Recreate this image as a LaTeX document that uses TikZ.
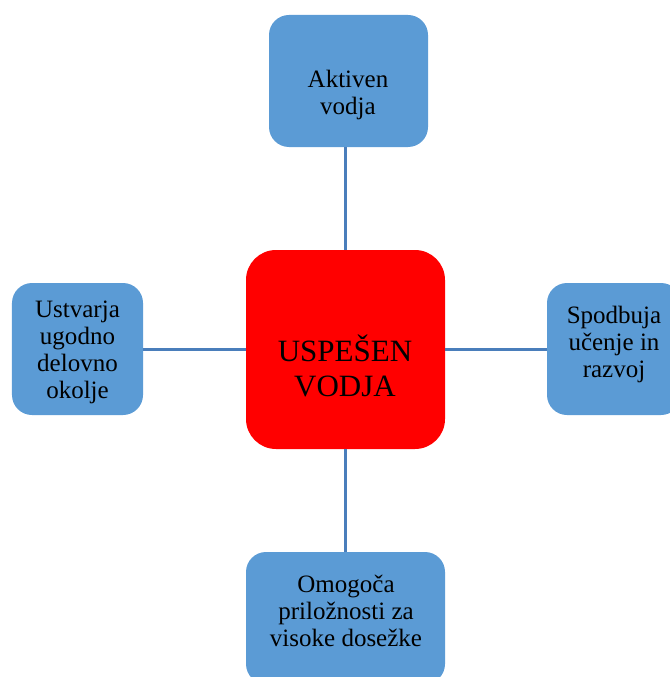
\documentclass[tikz,border=0pt]{standalone}
\usepackage{fontspec}
\setmainfont{Liberation Serif}
\definecolor{boxblue}{HTML}{5B9BD5}
\definecolor{linkblue}{HTML}{4A7EBB}
\definecolor{corered}{HTML}{FF0000}
\begin{document}
\begin{tikzpicture}[x=1bp,y=-1bp,
  sidebox/.style={fill=boxblue, draw=none, rounded corners=20bp, inner sep=0pt},
  corebox/.style={fill=corered, draw=none, rounded corners=30bp, inner sep=0pt,
    minimum width=199bp, minimum height=199bp},
  sidetext/.style={align=center, anchor=base, inner sep=0pt,
    font=\fontsize{25bp}{27bp}\selectfont},
  coretext/.style={align=center, anchor=base, inner sep=0pt,
    font=\fontsize{31bp}{35bp}\selectfont},
  link/.style={draw=linkblue, line width=2.5bp}]
\useasboundingbox (0,0) rectangle (670,677);
\clip (0,0) rectangle (670,677);

% boxes
\node[corebox] (core) at (345.5,349.5) {};
\node[sidebox, minimum width=159bp, minimum height=132bp] (top) at (348.5,81) {};
\node[sidebox, minimum width=131bp, minimum height=132bp] (left) at (77.5,349) {};
\node[sidebox, minimum width=134bp, minimum height=132bp] (right) at (614,349) {};
\node[sidebox, minimum width=199bp, minimum height=132bp] (bottom) at (345.5,618) {};

% labels (anchored at the baseline of the last line)
\node[coretext] (coreT) at (345,396) {USPEŠEN\\VODJA};
\node[sidetext] (topT) at (348,115) {Aktiven\\vodja};
\node[sidetext] (leftT) at (77.5,398) {Ustvarja\\ugodno\\delovno\\okolje};
\node[sidetext] (rightT) at (614,377) {Spodbuja\\učenje in\\razvoj};
\node[sidetext] (bottomT) at (346,646) {Omogoča\\priložnosti za\\visoke dosežke};

% connectors
\draw[link] (core.north) -- (core.north |- top.south);
\draw[link] (core.south) -- (core.south |- bottom.north);
\draw[link] (core.west) -- (core.west -| left.east);
\draw[link] (core.east) -- (core.east -| right.west);
\end{tikzpicture}
\end{document}
